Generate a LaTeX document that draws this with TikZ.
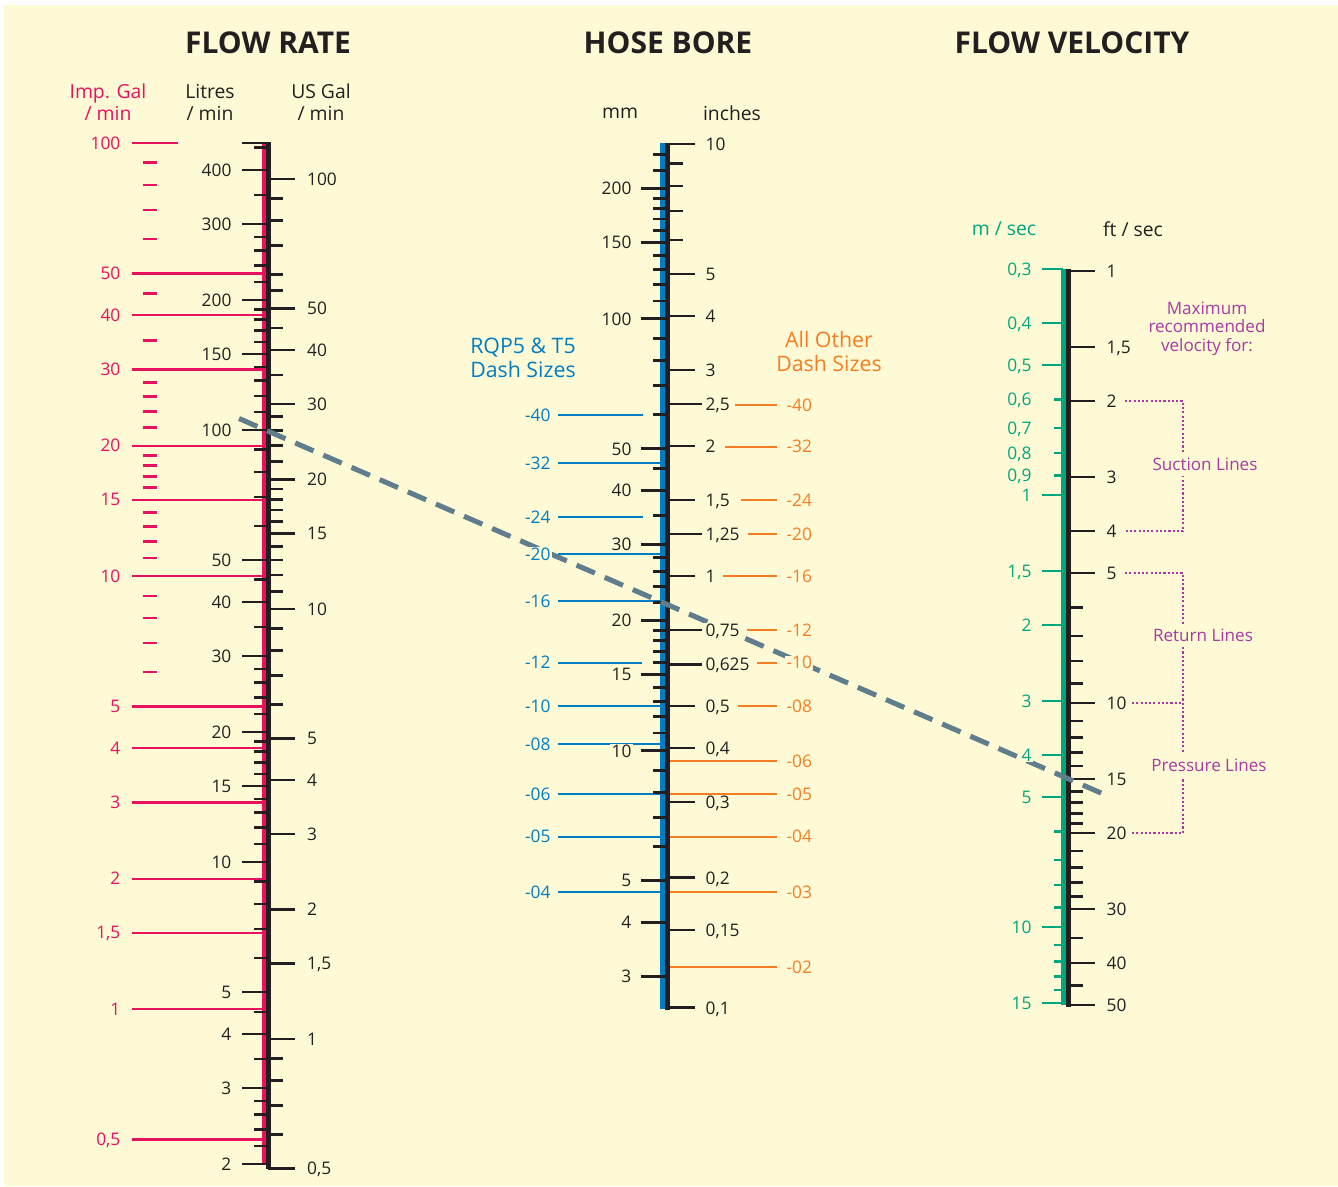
\documentclass[tikz,border=0pt]{standalone}
\usepackage{fontspec}
\setmainfont{Open Sans}
\definecolor{paper}{RGB}{255,250,214}
\definecolor{inkblack}{RGB}{35,31,32}
\definecolor{flowpink}{RGB}{232,17,94}
\definecolor{borblue}{RGB}{0,125,195}
\definecolor{dashorange}{RGB}{245,125,35}
\definecolor{velgreen}{RGB}{0,166,126}
\definecolor{maxpurple}{RGB}{168,58,160}
\definecolor{guidegrey}{RGB}{95,125,140}
\newcommand{\ticklabelfont}{\fontsize{13}{14.5}\selectfont}
\newcommand{\headfont}{\fontsize{14.5}{16.5}\selectfont}
\newcommand{\titlefont}{\fontsize{22.5}{26}\selectfont\bfseries}
\newcommand{\dashfont}{\fontsize{16}{17.5}\selectfont}
\newcommand{\notefont}{\fontsize{12.8}{13.9}\selectfont}

\begin{document}
\begin{tikzpicture}[x=0.75pt,y=0.75pt,yscale=-1,xscale=1,
  declare function={
    litY(\q)=430+432*(2-log10(\q));
    usY(\q)=179+430*(2-log10(\q));
    impY(\q)=143+433*(2-log10(\q));
    mmY(\q)=318.7+432*(2-log10(\q));
    inY(\q)=576-432*log10(\q);
    msY(\q)=495+432*log10(\q);
    ftY(\q)=271+432*log10(\q);
  },
  tickmark/.style={draw=inkblack,line width=2pt},
  pinkmark/.style={draw=flowpink,line width=1.75pt},
  bluemark/.style={draw=borblue,line width=1.7pt},
  orangemark/.style={draw=dashorange,line width=1.7pt},
  greenmark/.style={draw=velgreen,line width=2pt},
  lab/.style={fill=paper,inner xsep=1pt,inner ysep=0.5pt,text depth=0pt,font=\ticklabelfont,text=inkblack},
  head/.style={align=center,font=\headfont,text=inkblack},
  bracket/.style={draw=maxpurple,line width=1.6pt,dash pattern=on 1.6pt off 1.6pt},
  bracketlab/.style={fill=paper,inner xsep=2pt,inner ysep=4pt,font=\notefont,text=maxpurple},
  guide/.style={draw=guidegrey,line width=3.8pt,dash pattern=on 15pt off 8pt}]

%Background
\useasboundingbox (0,0) rectangle (1338,1186);
\fill[white] (0,0) rectangle (1338,1186);
\fill[paper] (4,5) rectangle (1338,1186);

%Titles
\node[font=\titlefont,text=inkblack] (ttlrate) at (268,43) {FLOW RATE};
\node[font=\titlefont,text=inkblack] (ttlbore) at (668,43) {HOSE BORE};
\node[font=\titlefont,text=inkblack] (ttlvel) at (1072,43) {FLOW VELOCITY};

%Column heads
\node[head,text=flowpink] (hdimp) at (108,102) {Imp. Gal\\/ min};
\node[head] (hdlit) at (210,102) {Litres\\/ min};
\node[head] (hdus) at (321,102) {US Gal\\/ min};
\node[head] (hdmm) at (620,113) {mm};
\node[head] (hdin) at (732,113) {inches};
\node[head,text=velgreen] (hdms) at (1004,229) {m / sec};
\node[head] (hdft) at (1133,229) {ft / sec};

% ---------------- Flow rate scale
%Imp. Gal lines
\draw[pinkmark] (132,{impY(100)}) -- (178,{impY(100)});
\foreach \v in {50,40,30,20,15,10,5,4,3,2,1.5,1,0.5}
  \draw[pinkmark] (132,{impY(\v)}) -- (264,{impY(\v)});
\foreach \v in {90,80,70,60,45,35,28,26,24,22,19,18,17,16,14,13,12,11,9,8,7,6}
  \draw[pinkmark,line width=2pt] (142.5,{impY(\v)}) -- (156.5,{impY(\v)});
%Axis
\draw[draw=flowpink,line width=3pt] (263.6,143) -- (263.6,1164);
\draw[draw=inkblack,line width=3.6pt] (268.3,142) -- (268.3,1169);
%Litres ticks
\draw[tickmark] (242,143) -- (266,143);
\foreach \v in {400,300,200,150,100,50,40,30,20,15,10,5,4,3,2}
  \draw[tickmark] (242,{litY(\v)}) -- (266,{litY(\v)});
\foreach \v in {2.2,2.4,2.6,2.8,3.5,4.5,6,7,8,9,11,12,13,14,16,17,18,19,22,24,26,28,35,45,60,70,80,90,110,120,130,140,160,170,180,190,220,240,260,280,350,450}
  \draw[tickmark] (254,{litY(\v)}) -- (266,{litY(\v)});
%US Gal ticks
\foreach \v in {100,50,40,30,20,15,10,5,4,3,2,1.5,1,0.5}
  \draw[tickmark] (268,{usY(\v)}) -- (295,{usY(\v)});
\foreach \v in {0.6,0.7,0.8,0.9,6,7,8,9,11,12,13,14,16,17,18,19,22,24,26,28,35,45,55,60,70,80,90}
  \draw[tickmark] (268,{usY(\v)}) -- (283,{usY(\v)});

% ---------------- Hose bore scale
%RQP5 and T5 dash sizes
\foreach \y/\t/\e in {415/-40/643,463.3/-32/660,517.3/-24/643,554/-20/660,601.3/-16/660,662.7/-12/642,706/-10/660,744/-08/660,794.3/-06/660,836.7/-05/660,891.7/-04/660}
  \draw[bluemark] (558,\y) -- (\e,\y);
%All other dash sizes
\foreach \y/\t/\s in {405/-40/735,446.7/-32/725,500.3/-24/741,534.3/-20/748,576.3/-16/723,630.3/-12/747,662.7/-10/757,706/-08/738,761/-06/668,794.3/-05/668,836.7/-04/668,891.7/-03/668,966.7/-02/668}
  \draw[orangemark] (\s,\y) -- (777,\y);
%Axis
\draw[draw=borblue,line width=3.7pt] (662.5,143) -- (662.5,1009);
\draw[draw=inkblack,line width=3.4pt] (667.6,143) -- (667.6,1009.5);
%mm ticks
\foreach \v in {200,150,100,50,40,30,20,15,10,5,4,3}
  \draw[tickmark] (641,{mmY(\v)}) -- (665,{mmY(\v)});
\foreach \v in {6,7,8,9,11,12,13,14,16,17,18,19,22,24,26,28,35,45,60,70,80,90,110,120,130,140,160,170,180,190,220,240}
  \draw[tickmark] (653,{mmY(\v)}) -- (665,{mmY(\v)});
%inches ticks
\foreach \v in {10,5,4,3,2,1.5,1,0.5,0.4,0.3,0.2,0.15,0.1}
  \draw[tickmark] (668,{inY(\v)}) -- (695,{inY(\v)});
\foreach \v in {2.5,1.25,0.75,0.625}
  \draw[tickmark] (668,{inY(\v)}) -- (702,{inY(\v)});
\foreach \v in {6,7,8,9}
  \draw[tickmark] (668,{inY(\v)}) -- (683,{inY(\v)});

% ---------------- Flow velocity scale
%Axis
\draw[draw=velgreen,line width=3.8pt] (1063.3,269) -- (1063.3,1005);
\draw[draw=inkblack,line width=3.6pt] (1068.4,269) -- (1068.4,1006.5);
%m / sec ticks
\foreach \v in {0.3,0.4,0.5,1,1.5,2,3,4,5,10,15}
  \draw[greenmark] (1042,{msY(\v)}) -- (1063,{msY(\v)});
\foreach \v in {0.6,0.7,0.8,0.9,6,7,8,9,11,12,13,14}
  \draw[greenmark] (1054,{msY(\v)}) -- (1063,{msY(\v)});
%ft / sec ticks
\foreach \v in {1,1.5,2,3,4,5,10,15,20,30,40,50}
  \draw[tickmark] (1068,{ftY(\v)}) -- (1095,{ftY(\v)});
\foreach \v in {6,7,8,9,11,12,13,14,16,17,18,19,22,24,26,28,35,45}
  \draw[tickmark] (1068,{ftY(\v)}) -- (1083,{ftY(\v)});

%Maximum velocity brackets
\coordinate (suctop) at (1125,{ftY(2)});
\coordinate (sucbot) at (1125,{ftY(4)});
\coordinate (rettop) at (1125,{ftY(5)});
\coordinate (retmid) at (1132,{ftY(10)});
\coordinate (prebot) at (1132,{ftY(20)});
\draw[bracket] (suctop) -- ++(58,0) |- (sucbot);
\draw[bracket] (rettop) -- ++(58,0) |- (prebot);
\draw[bracket] (retmid) -- ++(51,0);

% ---------------- Reading line
\coordinate (rdstart) at (239,418.5);
\coordinate (rdend) at (1108,796);
\draw[guide] (rdstart) -- (rdend);

% ---------------- Labels
\foreach \v [count=\i] in {400,300,200,150,100,50,40,30,20,15,10,5,4,3,2}
  \node[lab,anchor=east] (lit\i) at (233,{litY(\v)}) {\v};
\foreach \v/\t [count=\i] in {100/100,50/50,40/40,30/30,20/20,15/15,10/10,5/5,4/4,3/3,2/2,1.5/{1,5},1/1,0.5/{0,5}}
  \node[lab,anchor=west] (usg\i) at (305.5,{usY(\v)}) {\t};
\foreach \v/\t [count=\i] in {100/100,50/50,40/40,30/30,20/20,15/15,10/10,5/5,4/4,3/3,2/2,1.5/{1,5},1/1,0.5/{0,5}}
  \node[lab,anchor=east,text=flowpink] (imp\i) at (122,{impY(\v)}) {\t};
\foreach \v [count=\i] in {200,150,100,50,40,30,20,15,10,5,4,3}
  \node[lab,anchor=east] (mm\i) at (633,{mmY(\v)}) {\v};
\foreach \v/\t [count=\i] in {10/10,5/5,4/4,3/3,2.5/{2,5},2/2,1.5/{1,5},1.25/{1,25},1/1,0.75/{0,75},0.625/{0,625},0.5/{0,5},0.4/{0,4},0.3/{0,3},0.2/{0,2},0.15/{0,15},0.1/{0,1}}
  \node[lab,anchor=west] (inch\i) at (704,{inY(\v)}) {\t};
\foreach \y/\t [count=\i] in {415/-40,463.3/-32,517.3/-24,554/-20,601.3/-16,662.7/-12,706/-10,744/-08,794.3/-06,836.7/-05,891.7/-04}
  \node[lab,anchor=east,text=borblue] (rqp\i) at (552,\y) {\t};
\foreach \y/\t [count=\i] in {405/-40,446.7/-32,500.3/-24,534.3/-20,576.3/-16,630.3/-12,662.7/-10,706/-08,761/-06,794.3/-05,836.7/-04,891.7/-03,966.7/-02}
  \node[lab,anchor=west,text=dashorange] (oth\i) at (785,\y) {\t};
\foreach \v/\t [count=\i] in {0.3/{0,3},0.4/{0,4},0.5/{0,5},0.6/{0,6},0.7/{0,7},0.8/{0,8},0.9/{0,9},1/1,1.5/{1,5},2/2,3/3,4/4,5/5,10/10,15/15}
  \node[lab,anchor=east,text=velgreen] (ms\i) at (1033,{msY(\v)}) {\t};
\foreach \v/\t [count=\i] in {1/1,1.5/{1,5},2/2,3/3,4/4,5/5,10/10,15/15,20/20,30/30,40/40,50/50}
  \node[lab,anchor=west] (ft\i) at (1105,{ftY(\v)}) {\t};

% Text Node
\node[align=center,font=\dashfont,text=borblue] (rqptxt) at (523,358) {RQP5 \& T5\\Dash Sizes};
% Text Node
\node[align=center,font=\dashfont,text=dashorange] (othtxt) at (829,351.5) {All Other\\Dash Sizes};
% Text Node
\node[align=center,font=\notefont,text=maxpurple] (maxtxt) at (1207,328.5) {Maximum\\recommended\\velocity for:};
\node[bracketlab] (suctxt) at (1205,464) {Suction Lines};
\node[bracketlab] (rettxt) at (1203,635.5) {Return Lines};
\node[bracketlab] (pretxt) at (1209,765.5) {Pressure Lines};
\end{tikzpicture}
\end{document}
